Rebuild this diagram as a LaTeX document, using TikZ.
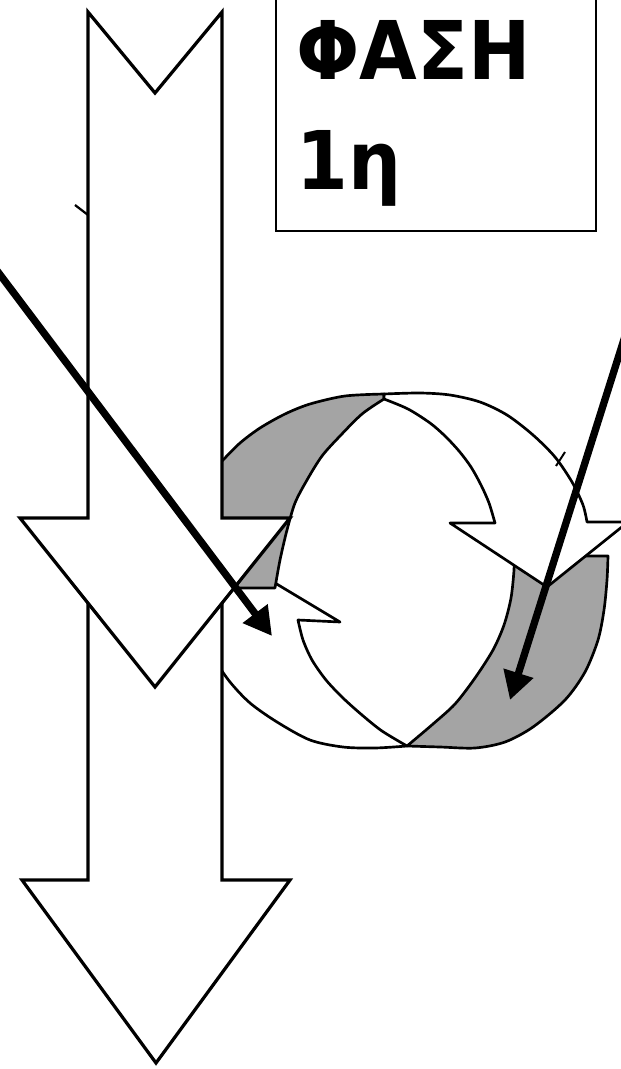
\documentclass[tikz,border=0pt]{standalone}
\usepackage{fontspec}
\newfontfamily\boxfont{DejaVu Sans}[FakeStretch=0.92]
\usetikzlibrary{arrows.meta}
\definecolor{ribgrey}{RGB}{164,164,164}
\begin{document}
\begin{tikzpicture}[x=0.025cm,y=-0.025cm,
  bigarrow/.style={draw=black, fill=white, line width=2.3pt, line join=miter},
  ribbon/.style={draw=black, line width=1.9pt, line join=round},
  pointer/.style={line width=5.2pt, -{Triangle[length=20pt,width=21pt]}},
  boxtext/.style={anchor=base west, inner sep=0pt, font=\boxfont\bfseries\fontsize{57.6}{60}\selectfont}]
\useasboundingbox (0,0) rectangle (620,1069);
\fill[white] (0,0) rectangle (620,1069);

% lower circular arrow, white part
\path[ribbon, fill=white] (407,746) -- plot[smooth] coordinates {(407,746) (375,748) (343,747) (310,740) (277,722) (250,703) (230,682) (215,660) (205,640) (200,622)}
  -- (175,622) -- (245,565) -- (340,622) -- (298,620)
  -- plot[smooth] coordinates {(298,620) (303,640) (312,660) (326,680) (343,698) (362,715) (382,731) (407,746)} -- cycle;
% lower circular arrow, grey part
\path[ribbon, fill=ribgrey] (514,556) -- (608,556)
  -- plot[smooth] coordinates {(608,556) (607,580) (604,610) (598,640) (585,672) (565,700) (533,727) (505,742) (475,748) (440,747) (407,746)}
  -- plot[smooth] coordinates {(407,746) (433,724) (455,704) (475,678) (493,650) (504,625) (511,598) (514,570) (514,556)} -- cycle;
% upper circular arrow, grey part
\path[ribbon, fill=ribgrey] (212,588) -- (212,472)
  -- plot[smooth] coordinates {(212,472) (223,460) (240,443) (260,428) (285,414) (310,404) (345,396) (384,394)}
  -- plot[smooth] coordinates {(384,399) (362,414) (340,436) (322,456) (307,480) (295,503) (287,530) (280,560) (275,588)} -- cycle;
% upper circular arrow, white part
\path[ribbon, fill=white] plot[smooth] coordinates {(384,394) (420,393) (450,395) (480,402) (507,415) (533,435) (555,457) (572,482) (583,505) (587,522)}
  -- (628,522) -- (547,587) -- (450,523) -- (495,523)
  -- plot[smooth] coordinates {(495,523) (489,503) (481,485) (471,467) (459,451) (445,436) (430,423) (408,409) (384,399)} -- cycle;
\draw[line width=1.4pt] (556,466) -- (565,452);

% lower vertical arrow
\path[bigarrow] (88,560) -- (88,880) -- (22,880) -- (156,1063) -- (290,880) -- (222,880) -- (222,560) -- cycle;
% upper vertical arrow (notched tail)
\path[bigarrow] (88,12) -- (155,93) -- (222,12) -- (222,518) -- (290,518) -- (155,687) -- (20,518) -- (88,518) -- cycle;
\draw[line width=1.6pt] (75,205) -- (88,215);

% label box
\draw[line width=1.3pt] (276,-10) rectangle (596,231);
\node[boxtext] (phase) at (296,80) {ΦΑΣΗ};
\node[boxtext] (first) at (296,190) {1η};

% pointers
\coordinate (p1s) at (-5,268);
\coordinate (p1e) at (272,636);
\coordinate (p2s) at (626,333);
\coordinate (p2e) at (510,700);
\draw[pointer] (p1s) -- (p1e);
\draw[pointer] (p2s) -- (p2e);
\end{tikzpicture}
\end{document}
